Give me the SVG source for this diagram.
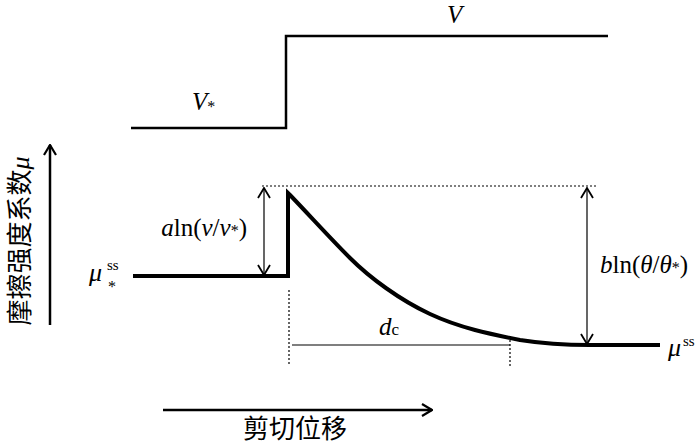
<svg xmlns="http://www.w3.org/2000/svg" width="700" height="445" viewBox="0 0 700 445">
<style>
.m{font-family:"Liberation Serif","Times New Roman","DejaVu Serif",serif;fill:#000}
.i{font-style:italic}
.cjk{font-family:"Noto Sans CJK SC","Noto Sans",sans-serif;fill:#000}
.thick{fill:none;stroke:#000;stroke-width:4;stroke-linejoin:miter}
.med{fill:none;stroke:#000;stroke-width:2.5}
.thin{fill:none;stroke:#000;stroke-width:1.2}
.dot{fill:none;stroke:#000;stroke-width:1.2;stroke-dasharray:2,2}
</style>
<defs>
<marker id="ah" viewBox="0 0 12 14" refX="11" refY="7" markerWidth="12" markerHeight="14" markerUnits="userSpaceOnUse" orient="auto-start-reverse">
<path d="M1,1 L11,7 L1,13" fill="none" stroke="#000" stroke-width="2.2"/>
</marker>
<marker id="ahs" viewBox="0 0 12 14" refX="11" refY="7" markerWidth="12" markerHeight="14" markerUnits="userSpaceOnUse" orient="auto-start-reverse">
<path d="M1,1 L11,7 L1,13" fill="none" stroke="#000" stroke-width="1.8"/>
</marker>
</defs>
<g id="velocity">
<path class="med" d="M131,128 H286 V36 H608"/>
<text class="m i" x="447" y="23" font-size="25">V</text>
<text class="m i" x="192" y="110" font-size="25">V<tspan font-size="16" font-style="normal" dy="2">*</tspan></text>
</g>
<g id="y-axis">
<line class="med" x1="50" y1="325" x2="50" y2="145" marker-end="url(#ah)"/>
<text transform="translate(29,241) rotate(-90)" text-anchor="middle"><tspan class="cjk" font-size="26">摩擦强度系数</tspan><tspan class="m i" font-size="26">μ</tspan></text>
</g>
<g id="friction">
<path class="thick" d="M133,276 H288 V193 L290,195 C312,218 330,238 350,258 S400,300 430,314 S490,334 520,340 C545,344 565,345 590,345 H660"/>
<text class="m i" x="89" y="281" font-size="26">μ</text>
<text class="m" x="107" y="270" font-size="15">ss</text>
<text class="m" x="108" y="292" font-size="16">*</text>
<text class="m i" x="668" y="356" font-size="26">μ</text>
<text class="m" x="683" y="346" font-size="15">ss</text>
</g>
<g id="connectors">
<line class="dot" x1="262" y1="186" x2="597" y2="186"/>
<line class="thin" x1="264" y1="188" x2="264" y2="275" marker-start="url(#ahs)" marker-end="url(#ahs)"/>
<line class="thin" x1="587" y1="188" x2="587" y2="344" marker-start="url(#ahs)" marker-end="url(#ahs)"/>
<line class="dot" x1="289" y1="290" x2="289" y2="366"/>
<line class="dot" x1="510" y1="336" x2="510" y2="368"/>
<line class="thin" x1="292" y1="345" x2="510" y2="345"/>
<line class="med" x1="163" y1="410" x2="432" y2="410" marker-end="url(#ah)"/>
</g>
<g id="labels">
<text class="m" x="247" y="236" font-size="25" text-anchor="end"><tspan font-style="italic">a</tspan>ln(<tspan font-style="italic">v</tspan>/<tspan font-style="italic">v</tspan><tspan font-size="16">*</tspan>)</text>
<text class="m" x="600" y="273" font-size="25"><tspan font-style="italic">b</tspan>ln(<tspan font-style="italic">θ</tspan>/<tspan font-style="italic">θ</tspan><tspan font-size="16">*</tspan>)</text>
<text class="m i" x="379" y="335" font-size="25">d<tspan font-style="normal" font-size="17">c</tspan></text>
<text class="cjk" x="295" y="438" font-size="26" text-anchor="middle">剪切位移</text>
</g>
</svg>
